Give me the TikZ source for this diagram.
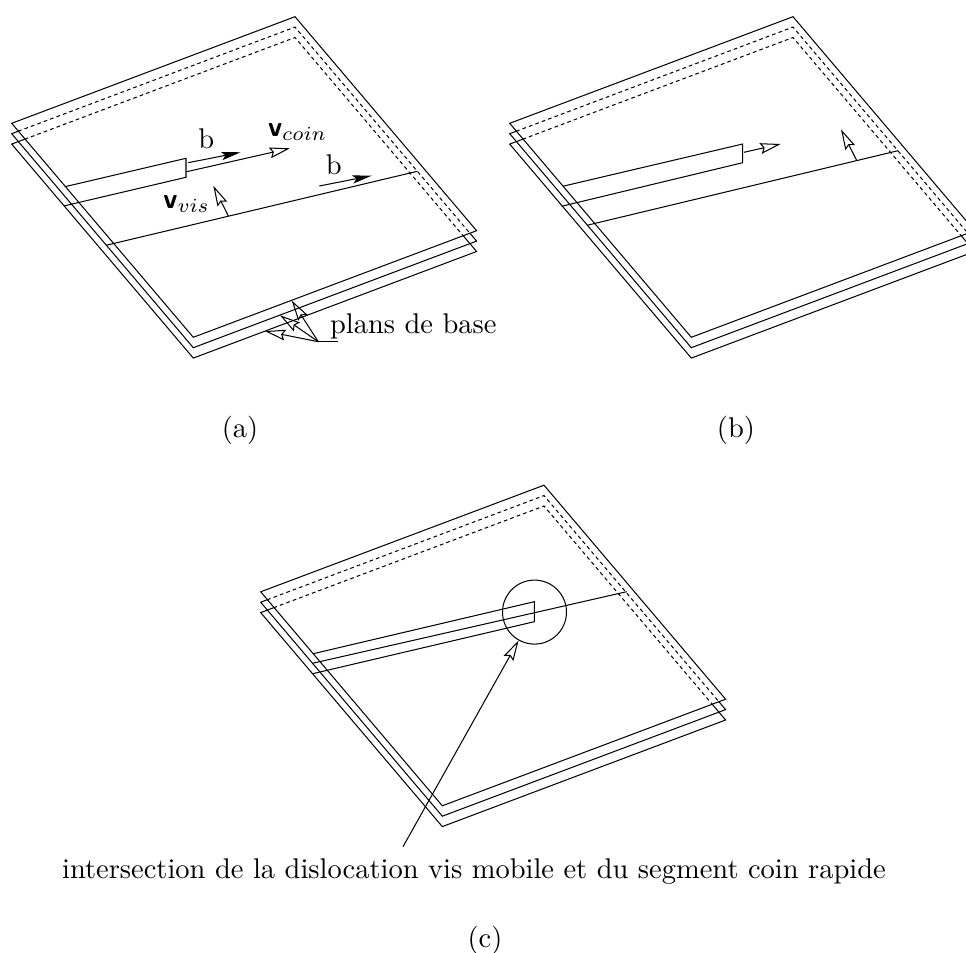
\documentclass[tikz,border=0pt]{standalone}
\usetikzlibrary{arrows.meta}
\tikzset{
  every picture/.style={line width=0.36pt},
  hidden/.style={dash pattern=on 1.3pt off 1.1pt},
  bvec/.style={-{Stealth[length=6.8pt,width=2.9pt,inset=1.4pt]}},
  vel/.style={-{Stealth[open,length=7.2pt,width=3.8pt,inset=1pt]}},
  lab/.style={inner sep=0pt,outer sep=0pt},
  ring/.style={circle,draw,inner sep=0pt,minimum size=22.46pt},
}
\newcommand{\threeplanes}[1]{%
  \coordinate (#1L1) at (11.7,123.3);
  \coordinate (#1T1) at (295,16.7);
  \coordinate (#1R1) at (476.6,230.7);
  \coordinate (#1B1) at (193.3,337.3);
  \coordinate (#1L2) at (11.7,133.7);
  \coordinate (#1T2) at (295,27.1);
  \coordinate (#1R2) at (476.6,241.1);
  \coordinate (#1B2) at (193.3,347.7);
  \coordinate (#1L3) at (11.7,144.1);
  \coordinate (#1T3) at (295,37.5);
  \coordinate (#1R3) at (476.6,251.5);
  \coordinate (#1B3) at (193.3,358.1);
  \begin{scope}
    \clip (#1L1) -- (#1T1) -- (#1R1) -- (#1B1) -- cycle;
    \draw[hidden] (#1L2) -- (#1T2) -- (#1R2) -- (#1B2) -- cycle;
    \draw[hidden] (#1L3) -- (#1T3) -- (#1R3) -- (#1B3) -- cycle;
  \end{scope}
  \begin{scope}
    \clip (-100,-100) -- (1100,-100) -- (1100,1100) -- (-100,1100) -- cycle
          (#1L1) -- (#1B1) -- (#1R1) -- (#1T1) -- cycle;
    \draw (#1L2) -- (#1T2) -- (#1R2) -- (#1B2) -- cycle;
    \draw (#1L3) -- (#1T3) -- (#1R3) -- (#1B3) -- cycle;
  \end{scope}
  \draw (#1L1) -- (#1T1) -- (#1R1) -- (#1B1) -- cycle;
}
\begin{document}
\begin{tikzpicture}[x={(0.351pt,0)},y={(0,-0.351pt)}]
\useasboundingbox (0,0) rectangle (966,953);
\clip (0,0) rectangle (966,953);

% ---------------- panel (a)
\begin{scope}
  \threeplanes{a}
  \coordinate (aBu0) at (65.4,186.6);
  \coordinate (aBu1) at (186,158.3);
  \coordinate (aBl1) at (186,177.3);
  \coordinate (aBl0) at (64.2,205.9);
  \draw (aBu0) -- (aBu1) -- (aBl1) -- (aBl0);
  \coordinate (aS0) at (106,245.3);
  \coordinate (aS1) at (417.4,171.3);
  \draw (aS0) -- (aS1);
  \coordinate (ab0) at (188.3,162.7);
  \coordinate (ab1) at (240.7,152.3);
  \draw[bvec] (ab0) -- (ab1);
  \coordinate (avc0) at (186.7,171.7);
  \coordinate (avc1) at (290,148.3);
  \draw[vel] (avc0) -- (avc1);
  \coordinate (avv0) at (228.3,216);
  \coordinate (avv1) at (213.3,185.7);
  \draw[vel] (avv0) -- (avv1);
  \coordinate (ab20) at (319.3,186);
  \coordinate (ab21) at (371.7,175.7);
  \draw[bvec] (ab20) -- (ab21);
  \node[lab,anchor=base] (ablab) at (206.2,148.3) {b};
  \node[lab,anchor=base west] (avclab) at (268,136.7) {$\textsf{\textbf{v}}_{coin}$};
  \node[lab,anchor=base west] (avvlab) at (163.3,208.3) {$\textsf{\textbf{v}}_{vis}$};
  \node[lab,anchor=base] (ab2lab) at (333.7,175) {b};
  \node[lab,anchor=base west] (plans) at (330,333.3) {plans de base};
  \coordinate (pj) at (318.3,341.7);
  \coordinate (pend) at (338.3,341.7);
  \coordinate (pt1) at (291.7,300.5);
  \coordinate (pt2) at (280,315.3);
  \coordinate (pt3) at (265,331.1);
  \draw (pj) -- (pend);
  \draw[vel] (pj) -- (pt1);
  \draw[vel] (pj) -- (pt2);
  \draw[vel] (pj) -- (pt3);
\end{scope}

% ---------------- panel (b)
\begin{scope}[shift={(498,0)}]
  \threeplanes{b}
  \coordinate (bBu0) at (65.1,186.2);
  \coordinate (bBu1) at (244.7,144);
  \coordinate (bBl1) at (244.7,162.7);
  \coordinate (bBl0) at (63.6,206.3);
  \draw (bBu0) -- (bBu1) -- (bBl1) -- (bBl0);
  \coordinate (bv0) at (246,152.3);
  \coordinate (bv1) at (282.7,144);
  \draw[vel] (bv0) -- (bv1);
  \coordinate (bS0) at (89,225.3);
  \coordinate (bS1) at (400,150.7);
  \draw (bS0) -- (bS1);
  \coordinate (bw0) at (358.7,160.5);
  \coordinate (bw1) at (343,129.3);
  \draw[vel] (bw0) -- (bw1);
\end{scope}

% ---------------- panel (c)
\begin{scope}[shift={(249,468.5)}]
  \threeplanes{c}
  \coordinate (cBu0) at (64.2,185.2);
  \coordinate (cBu1) at (285.3,133.2);
  \coordinate (cBl1) at (285.3,153.2);
  \coordinate (cBl0) at (63.6,205.2);
  \draw (cBu0) -- (cBu1) -- (cBl1) -- (cBl0);
  \coordinate (cS0) at (63.6,194.8);
  \coordinate (cS1) at (377.7,123.2);
  \draw (cS0) -- (cS1);
  \node[ring] (cCirc) at (285.5,143.6) {};
\end{scope}
\coordinate (cA0) at (403,846.7);
\draw[vel] (cA0) -- (cCirc);
\node[lab,anchor=base] (ccap) at (474,878) {intersection de la dislocation vis mobile et du segment coin rapide};

% captions
\node (capa) at (240,430) {(a)};
\node (capb) at (736,430) {(b)};
\node (capc) at (485,940) {(c)};
\end{tikzpicture}
\end{document}
